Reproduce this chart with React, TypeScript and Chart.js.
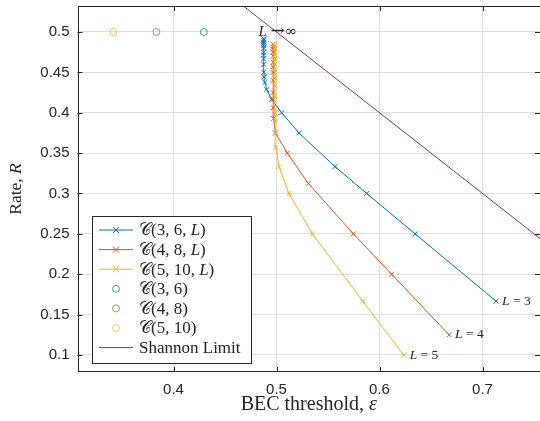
import React, { useEffect, useRef } from "react";
import { Chart, registerables } from "chart.js";
Chart.register(...registerables);

// ---- data ----
const blueEps = [0.7131, 0.6345, 0.5876, 0.5568, 0.5218, 0.505, 0.4953, 0.4905, 0.4888, 0.488, 0.4877, 0.4875, 0.4874, 0.4874, 0.4875, 0.4875, 0.4876, 0.4876, 0.4876, 0.4876, 0.4877];
const blueRate = [0.1667, 0.25, 0.3, 0.3333, 0.375, 0.4, 0.4167, 0.4286, 0.4375, 0.4444, 0.45, 0.46, 0.4667, 0.4714, 0.475, 0.48, 0.4833, 0.4857, 0.4875, 0.49, 0.4917];
const redEps = [0.6675, 0.6118, 0.5746, 0.5309, 0.5105, 0.499, 0.4972, 0.4968, 0.4967, 0.4967, 0.4967, 0.4967, 0.4968, 0.4968, 0.4968, 0.4968, 0.4968, 0.4969, 0.4969];
const redRate = [0.125, 0.2, 0.25, 0.3125, 0.35, 0.375, 0.3929, 0.4063, 0.4167, 0.425, 0.44, 0.45, 0.4571, 0.4625, 0.47, 0.475, 0.4786, 0.4813, 0.485];
const yelEps = [0.6235, 0.5837, 0.5348, 0.5121, 0.5024, 0.4995, 0.4987, 0.4985, 0.4984, 0.4984, 0.4984, 0.4984, 0.4984, 0.4984, 0.4984, 0.4984, 0.4984, 0.4984, 0.4985];
const yelRate = [0.1, 0.1667, 0.25, 0.3, 0.3333, 0.3571, 0.375, 0.3889, 0.4, 0.42, 0.4333, 0.4429, 0.45, 0.46, 0.4667, 0.4714, 0.475, 0.48, 0.4833];
const uncoupledEps = [0.4294, 0.3834, 0.3416];
const uncoupledRate = [0.5, 0.5, 0.5];
const shannonEps = [0.3, 0.8];
const shannonRate = [0.7, 0.2];

const xTicks = [0.4, 0.5, 0.6, 0.7];
const xTickLabels = ["0.4", "0.5", "0.6", "0.7"];
const yTicks = [0.1, 0.15, 0.2, 0.25, 0.3, 0.35, 0.4, 0.45, 0.5];
const yTickLabels = ["0.1", "0.15", "0.2", "0.25", "0.3", "0.35", "0.4", "0.45", "0.5"];

const endLabels = ["3", "4", "5"];

const C_BLUE = "#0072BD";
const C_RED = "#D95319";
const C_YEL = "#EDB120";
const C_PUR = "#7E2F8E";
const C_BLUE_L = "rgba(0,114,189,0.75)";
const C_RED_L = "rgba(217,83,25,0.75)";
const C_YEL_L = "rgba(237,177,32,0.8)";
const AXIS = "#262626";
const GRID = "#dfdfdf";
const SERIF = '"Liberation Serif", "DejaVu Serif", serif';
const SERIF2 = '"DejaVu Serif", serif';
const SANS = '"Liberation Sans", Arial, sans-serif';

type Part = { t: string; i?: boolean; f?: string; s?: number };

function drawParts(ctx: CanvasRenderingContext2D, parts: Part[], x: number, y: number, size: number, align: "left" | "center" = "left") {
  let total = 0;
  const fontOf = (p: Part) => `${p.i ? "italic " : ""}${p.s || size}px ${p.f || SERIF}`;
  const widths = parts.map((p) => {
    ctx.font = fontOf(p);
    const w = ctx.measureText(p.t).width;
    total += w;
    return w;
  });
  let cx = align === "center" ? x - total / 2 : x;
  parts.forEach((p, k) => {
    ctx.font = fontOf(p);
    ctx.fillText(p.t, cx, y);
    cx += widths[k];
  });
}

const legendItems: { parts: Part[]; color: string; kind: "linex" | "circle" | "line" }[] = [
  { parts: [{ t: "𝒞" }, { t: "(3, 6, " }, { t: "L", i: true }, { t: ")" }], color: C_BLUE, kind: "linex" },
  { parts: [{ t: "𝒞" }, { t: "(4, 8, " }, { t: "L", i: true }, { t: ")" }], color: C_RED, kind: "linex" },
  { parts: [{ t: "𝒞" }, { t: "(5, 10, " }, { t: "L", i: true }, { t: ")" }], color: C_YEL, kind: "linex" },
  { parts: [{ t: "𝒞" }, { t: "(3, 6)" }], color: C_BLUE_L, kind: "circle" },
  { parts: [{ t: "𝒞" }, { t: "(4, 8)" }], color: C_RED_L, kind: "circle" },
  { parts: [{ t: "𝒞" }, { t: "(5, 10)" }], color: C_YEL_L, kind: "circle" },
  { parts: [{ t: "Shannon Limit" }], color: C_PUR, kind: "line" },
];

function drawX(ctx: CanvasRenderingContext2D, x: number, y: number, r: number) {
  ctx.beginPath();
  ctx.moveTo(x - r, y - r);
  ctx.lineTo(x + r, y + r);
  ctx.moveTo(x - r, y + r);
  ctx.lineTo(x + r, y - r);
  ctx.stroke();
}

const overlay = {
  id: "overlay",
  afterDatasetsDraw(chart: any) {
    const { ctx, chartArea: a, scales } = chart;
    const xs = scales.x;
    const ys = scales.y;
    ctx.save();
    // end labels L = 3,4,5
    ctx.fillStyle = AXIS;
    ctx.textBaseline = "middle";
    [0, 1, 2].forEach((di) => {
      const p = chart.getDatasetMeta(di).data[0];
      drawParts(ctx, [{ t: "L", i: true }, { t: " = " + endLabels[di] }], p.x + 6, p.y, 13.5);
    });
    // L -> infinity
    const lx = xs.getPixelForValue(0.4825);
    const ly = ys.getPixelForValue(0.5);
    drawParts(ctx, [{ t: "L ", i: true }, { t: "→", f: SERIF2, s: 17 }, { t: "∞", f: SERIF2, s: 15 }], lx, ly, 15);

    // box
    ctx.strokeStyle = AXIS;
    ctx.lineWidth = 1;
    ctx.strokeRect(Math.round(a.left) + 0.5, Math.round(a.top) + 0.5, Math.round(a.right - a.left) - 1, Math.round(a.bottom - a.top) - 1);
    // inside ticks
    const tl = 5;
    ctx.beginPath();
    xTicks.forEach((v) => {
      const px = Math.round(xs.getPixelForValue(v)) + 0.5;
      ctx.moveTo(px, a.bottom);
      ctx.lineTo(px, a.bottom - tl);
      ctx.moveTo(px, a.top);
      ctx.lineTo(px, a.top + tl);
    });
    yTicks.forEach((v) => {
      const py = Math.round(ys.getPixelForValue(v)) + 0.5;
      ctx.moveTo(a.left, py);
      ctx.lineTo(a.left + tl, py);
      ctx.moveTo(a.right, py);
      ctx.lineTo(a.right - tl, py);
    });
    ctx.stroke();
    ctx.restore();
  },
  afterDraw(chart: any) {
    const { ctx, chartArea: a } = chart;
    ctx.save();
    // axis titles
    ctx.fillStyle = AXIS;
    ctx.textBaseline = "alphabetic";
    drawParts(ctx, [{ t: "BEC threshold, " }, { t: "ε", i: true }], (a.left + a.right) / 2, 410, 20, "center");
    ctx.save();
    ctx.translate(21, (a.top + a.bottom) / 2);
    ctx.rotate(-Math.PI / 2);
    drawParts(ctx, [{ t: "Rate, " }, { t: "R", i: true }], 0, 0, 17.5, "center");
    ctx.restore();

    // legend
    const lx = a.left + 14.5;
    const lw = 159;
    const lh = 147;
    const ly = a.bottom - 9 - lh;
    ctx.fillStyle = "#ffffff";
    ctx.fillRect(lx, ly, lw, lh);
    ctx.strokeStyle = AXIS;
    ctx.lineWidth = 1;
    ctx.strokeRect(Math.round(lx) + 0.5, Math.round(ly) + 0.5, lw, lh);
    legendItems.forEach((it, k) => {
      const ry = ly + 14 + k * 19.6;
      const x0 = lx + 7;
      const x1 = lx + 41;
      ctx.strokeStyle = it.color;
      ctx.lineWidth = 1;
      if (it.kind !== "circle") {
        ctx.beginPath();
        ctx.moveTo(x0, ry);
        ctx.lineTo(x1, ry);
        ctx.stroke();
      }
      if (it.kind === "linex") drawX(ctx, (x0 + x1) / 2, ry, 3);
      if (it.kind === "circle") {
        ctx.beginPath();
        ctx.arc((x0 + x1) / 2, ry, 3.5, 0, Math.PI * 2);
        ctx.stroke();
      }
      ctx.fillStyle = AXIS;
      ctx.textBaseline = "middle";
      drawParts(ctx, it.parts, lx + 47, ry + 1, 17);
    });
    ctx.restore();
  },
};

function pts(xs: number[], ys: number[]) {
  return xs.map((x, i) => ({ x, y: ys[i] }));
}

function zeroPad(s: any) {
  s.paddingTop = 0;
  s.paddingBottom = 0;
  s.paddingLeft = 0;
  s.paddingRight = 0;
}

export default function App() {
  const ref = useRef<HTMLCanvasElement | null>(null);
  useEffect(() => {
    document.body.style.margin = "0";
    const canvas = ref.current!;
    const lineDs = (data: any, color: string, order: number) => ({
      data,
      borderColor: color,
      backgroundColor: color,
      borderWidth: 1,
      pointStyle: "crossRot",
      pointRadius: 3.5,
      pointBorderWidth: 1,
      showLine: true,
      tension: 0,
      order,
    });
    const circDs = (x: number, y: number, color: string, order: number) => ({
      data: [{ x, y }],
      borderColor: color,
      backgroundColor: "rgba(0,0,0,0)",
      pointStyle: "circle",
      pointRadius: 3.5,
      pointBorderWidth: 1,
      showLine: false,
      order,
    });
    const chart = new Chart(canvas, {
      type: "scatter",
      data: {
        datasets: [
          lineDs(pts(blueEps, blueRate), C_BLUE, 10),
          lineDs(pts(redEps, redRate), C_RED, 9),
          lineDs(pts(yelEps, yelRate), C_YEL, 8),
          circDs(uncoupledEps[0], uncoupledRate[0], C_BLUE_L, 7),
          circDs(uncoupledEps[1], uncoupledRate[1], C_RED_L, 6),
          circDs(uncoupledEps[2], uncoupledRate[2], C_YEL_L, 5),
          {
            data: pts(shannonEps, shannonRate),
            borderColor: C_PUR,
            backgroundColor: C_PUR,
            borderWidth: 1,
            pointRadius: 0,
            showLine: true,
            order: 4,
          },
        ] as any,
      },
      options: {
        responsive: false,
        animation: false,
        devicePixelRatio: 1,
        layout: { autoPadding: false, padding: { top: 6, right: -6.5, left: 0, bottom: 0 } },
        plugins: { legend: { display: false }, tooltip: { enabled: false } },
        scales: {
          x: {
            type: "linear",
            min: 0.3068,
            max: 0.7558,
            afterBuildTicks: (s: any) => {
              s.ticks = xTicks.map((v) => ({ value: v }));
            },
            afterFit: (s: any) => {
              s.height = 49;
              zeroPad(s);
            },
            grid: { color: GRID, drawTicks: false },
            border: { display: false },
            ticks: {
              padding: 9,
              color: AXIS,
              font: { family: SANS, size: 15 },
              callback: (v: any) => {
                const i = xTicks.findIndex((t) => Math.abs(t - v) < 1e-9);
                return i >= 0 ? xTickLabels[i] : "";
              },
            },
          },
          y: {
            type: "linear",
            min: 0.0789,
            max: 0.5322,
            afterBuildTicks: (s: any) => {
              s.ticks = yTicks.map((v) => ({ value: v }));
            },
            afterFit: (s: any) => {
              s.width = 77.5;
              zeroPad(s);
            },
            grid: { color: GRID, drawTicks: false },
            border: { display: false },
            ticks: {
              padding: 8,
              color: AXIS,
              font: { family: SANS, size: 15 },
              callback: (v: any) => {
                const i = yTicks.findIndex((t) => Math.abs(t - v) < 1e-9);
                return i >= 0 ? yTickLabels[i] : "";
              },
            },
          },
        },
      } as any,
      plugins: [overlay],
    });
    return () => chart.destroy();
  }, []);
  return <canvas ref={ref} width={540} height={421} style={{ display: "block", width: 540, height: 421 }} />;
}
